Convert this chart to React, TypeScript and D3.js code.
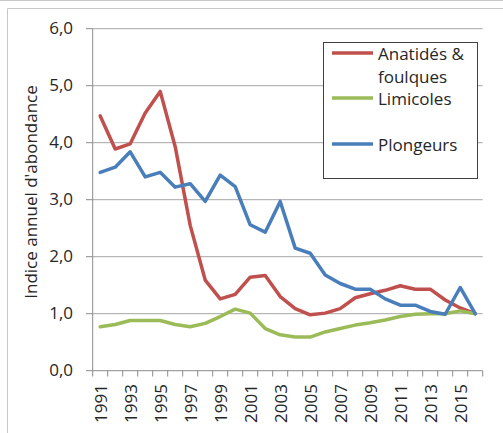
import React from "react";
import * as d3 from "d3";

const years: number[] = [1991,1992,1993,1994,1995,1996,1997,1998,1999,2000,2001,2002,2003,2004,2005,2006,2007,2008,2009,2010,2011,2012,2013,2014,2015,2016];
const anatides: number[] = [4.47,3.89,3.98,4.52,4.9,3.93,2.55,1.59,1.26,1.34,1.64,1.67,1.3,1.09,0.98,1.01,1.09,1.28,1.35,1.41,1.49,1.43,1.43,1.24,1.1,1.0];
const limicoles: number[] = [0.77,0.81,0.88,0.88,0.88,0.81,0.77,0.83,0.95,1.08,1.01,0.74,0.63,0.59,0.59,0.68,0.74,0.8,0.84,0.89,0.95,0.99,1.0,1.0,1.05,1.0];
const plongeurs: number[] = [3.48,3.57,3.84,3.4,3.48,3.22,3.28,2.97,3.43,3.23,2.56,2.43,2.97,2.15,2.06,1.68,1.53,1.43,1.43,1.26,1.15,1.15,1.04,0.99,1.46,1.0];
const yTicks: number[] = [0,1,2,3,4,5,6];
const seriesNames: string[][] = [["Anatidés &", "foulques"], ["Limicoles"], ["Plongeurs"]];
const seriesColors: string[] = ["#C0504D", "#9BBB59", "#4A7EBB"];

const W = 503, H = 433;
const FONT = "'Open Sans', sans-serif";

export default function App() {
  const x = d3.scaleBand<number>().domain(years).range([92.7, 482.7]).padding(0);
  const y = d3.scaleLinear().domain([0, 6]).range([370.7, 28.7]);
  const cx = (yr: number) => (x(yr) as number) + x.bandwidth() / 2;
  const line = d3.line<number>().x((_, i) => cx(years[i])).y((v) => y(v));
  const series = [anatides, limicoles, plongeurs];
  const fmt = (v: number) => v.toFixed(1).replace(".", ",");
  const boundaries = d3.range(years.length + 1).map((k) => 92.7 + k * x.bandwidth());
  const legendRowsY = [53, 98, 144];

  return (
    <svg width={W} height={H} style={{ position: "absolute", left: 0, top: 0, background: "#fff" }}>
      <rect x={0} y={0} width={W} height={H} fill="#fff" />
      <line x1={0} x2={W} y1={0.5} y2={0.5} stroke="#c8c8c8" />
      <path d={`M7.5,${H} V8.5 H${W}`} fill="none" stroke="#c8c8c8" />
      {yTicks.map((t) => (
        <g key={t}>
          {t > 0 && <line x1={92.7} x2={482.7} y1={y(t)} y2={y(t)} stroke="#a6a6a6" strokeWidth={1} />}
          <line x1={86} x2={92.7} y1={y(t)} y2={y(t)} stroke="#8c8c8c" strokeWidth={1} />
          <text x={73} y={y(t)} dy="-0.05em" dominantBaseline="central" textAnchor="end" fontFamily={FONT} fontSize={17} fill="#262626">{fmt(t)}</text>
        </g>
      ))}
      <line x1={92.7} x2={92.7} y1={28.7} y2={370.7} stroke="#8c8c8c" />
      <line x1={92.7} x2={482.7} y1={370.7} y2={370.7} stroke="#8c8c8c" />
      {boundaries.map((b, i) => (
        <line key={i} x1={b} x2={b} y1={370.7} y2={376.5} stroke="#8c8c8c" />
      ))}
      {years.filter((_, i) => i % 2 === 0).map((yr) => (
        <text key={yr} transform={`translate(${cx(yr)},384) rotate(-90)`} textAnchor="end" dominantBaseline="central" fontFamily={FONT} fontSize={17} fill="#262626">{yr}</text>
      ))}
      <text transform={`translate(30,192) rotate(-90)`} textAnchor="middle" dominantBaseline="central" fontFamily={FONT} fontSize={17} fill="#262626">Indice annuel d'abondance</text>
      {series.map((s, i) => (
        <path key={i} d={line(s) as string} fill="none" stroke={seriesColors[i]} strokeWidth={3.5} strokeLinejoin="round" strokeLinecap="round" />
      ))}
      <rect x={323.5} y={42.5} width={154} height={136} fill="#fff" stroke="#404040" strokeWidth={1} />
      {seriesNames.map((names, i) => (
        <g key={i}>
          <line x1={332} x2={373} y1={legendRowsY[i]} y2={legendRowsY[i]} stroke={seriesColors[i]} strokeWidth={3.5} />
          {names.map((n, j) => (
            <text key={j} x={378} y={legendRowsY[i] + 7 + j * 23} fontFamily={FONT} fontSize={17} fill="#262626">{n}</text>
          ))}
        </g>
      ))}
    </svg>
  );
}
